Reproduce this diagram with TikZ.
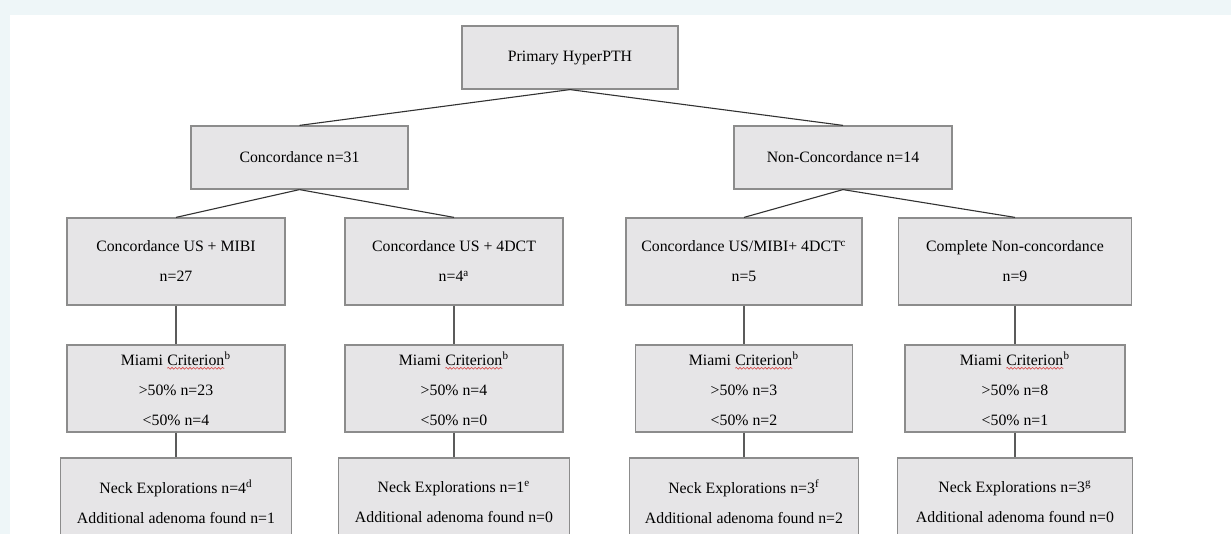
\documentclass[tikz,border=0pt]{standalone}
\usepackage{fontspec}
\setmainfont{Liberation Serif}
\usetikzlibrary{decorations.pathmorphing}

% red wavy spell-check mark under a word
\newcommand{\redwave}[1]{\tikz[baseline=(w.base)]{%
  \node[inner sep=0pt,outer sep=0pt,minimum width=0pt,minimum height=0pt,
    draw=none,fill=none,anchor=base] (w) at (0,0) {#1};%
  \draw[spellred,line width=0.3pt,decorate,
    decoration={snake,amplitude=0.45pt,segment length=1.8pt}]
    ([yshift=-1.6pt]w.base west) -- ([yshift=-1.6pt]w.base east);}}

\begin{document}
\begin{tikzpicture}[x=0.5pt,y=-0.5pt]

% Colors
\definecolor{pagebg}{RGB}{238,246,248}
\definecolor{boxfill}{RGB}{230,229,231}
\definecolor{boxdraw}{RGB}{140,140,140}
\definecolor{linkdraw}{RGB}{50,50,50}
\definecolor{spellred}{RGB}{215,70,70}

% Styles
\tikzset{
  boxnode/.style={
    rectangle,
    draw=boxdraw,
    fill=boxfill,
    line width=0.6pt,
    inner sep=0pt,
    align=center,
    font=\fontsize{7.9}{15}\selectfont
  },
  lowbox/.style={
    boxnode,
    minimum height=31.5pt
  },
  tallbox/.style={
    boxnode,
    minimum height=43.5pt
  },
  link/.style={
    draw=linkdraw,
    line width=0.55pt
  },
  stem/.style={
    draw=linkdraw!80,
    line width=0.6pt
  }
}

% Page
\clip (0,0) rectangle (1231,534);
\fill[pagebg] (0,0) rectangle (1231,534);
\fill[white] (10,15) rectangle (1231,534);

% Top levels
\node[lowbox, minimum width=108pt] (prim) at (570,57.5) {Primary HyperPTH};
\node[lowbox, minimum width=108.5pt] (conc) at (299.5,157.5) {Concordance n=31};
\node[lowbox, minimum width=109pt] (ncon) at (843,157.5) {Non-Concordance n=14};

% Imaging groups
\node[tallbox, minimum width=109pt] (usmibi) at (176,261.5)
  {Concordance US + MIBI\\ n=27};
\node[tallbox, minimum width=109pt] (usct) at (454,261.5)
  {Concordance US + 4DCT\\ n=4\textsuperscript{a}};
\node[tallbox, minimum width=118pt] (usmibict) at (744,261.5)
  {Concordance US/MIBI+ 4DCT\textsuperscript{c}\\ n=5};
\node[tallbox, minimum width=116.5pt] (noncomp) at (1015,261.5)
  {Complete Non-concordance\\ n=9};

% Miami criterion
\node[tallbox, minimum width=109pt] (miami1) at (176,388.5)
  {Miami \redwave{Criterion}\textsuperscript{b}\\ >50\% n=23\\ <50\% n=4};
\node[tallbox, minimum width=109pt] (miami2) at (454,388.5)
  {Miami \redwave{Criterion}\textsuperscript{b}\\ >50\% n=4\\ <50\% n=0};
\node[tallbox, minimum width=108.5pt] (miami3) at (744,388.5)
  {Miami \redwave{Criterion}\textsuperscript{b}\\ >50\% n=3\\ <50\% n=2};
\node[tallbox, minimum width=110pt] (miami4) at (1015,388.5)
  {Miami \redwave{Criterion}\textsuperscript{b}\\ >50\% n=8\\ <50\% n=1};

% Neck explorations (cut off at the bottom)
\node[tallbox, minimum width=115.5pt, minimum height=44pt] (neck1) at (176,502)
  {Neck Explorations n=4\textsuperscript{d}\\ Additional adenoma found n=1};
\node[tallbox, minimum width=115.5pt, minimum height=44pt] (neck2) at (454,502)
  {Neck Explorations n=1\textsuperscript{e}\\ Additional adenoma found n=0};
\node[tallbox, minimum width=114.5pt, minimum height=44pt] (neck3) at (744,502)
  {Neck Explorations n=3\textsuperscript{f}\\ Additional adenoma found n=2};
\node[tallbox, minimum width=117.5pt, minimum height=44pt] (neck4) at (1015,502)
  {Neck Explorations n=3\textsuperscript{g}\\ Additional adenoma found n=0};

% Links
\draw[link] (prim.south) -- (conc.north);
\draw[link] (prim.south) -- (ncon.north);
\draw[link] (conc.south) -- (usmibi.north);
\draw[link] (conc.south) -- (usct.north);
\draw[link] (ncon.south) -- (usmibict.north);
\draw[link] (ncon.south) -- (noncomp.north);

\draw[stem] (usmibi.south) -- (miami1.north);
\draw[stem] (usct.south) -- (miami2.north);
\draw[stem] (usmibict.south) -- (miami3.north);
\draw[stem] (noncomp.south) -- (miami4.north);

\draw[stem] (miami1.south) -- (neck1.north);
\draw[stem] (miami2.south) -- (neck2.north);
\draw[stem] (miami3.south) -- (neck3.north);
\draw[stem] (miami4.south) -- (neck4.north);

\end{tikzpicture}
\end{document}
